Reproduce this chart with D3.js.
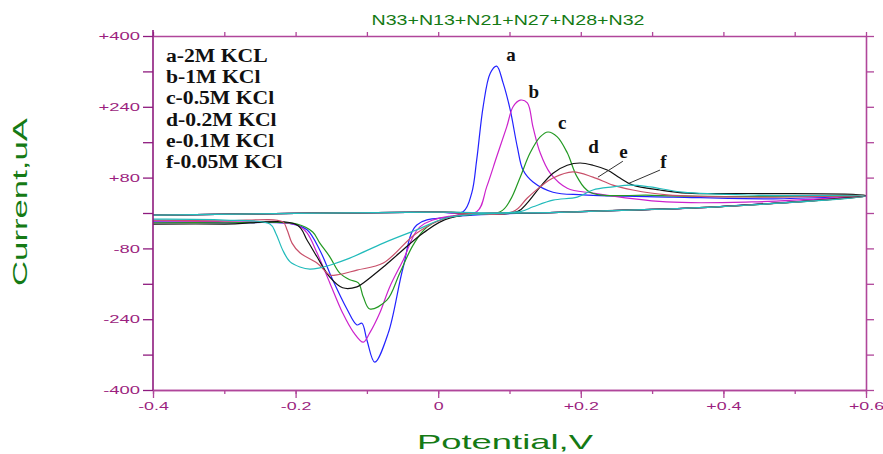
<!DOCTYPE html>
<html>
<head>
<meta charset="utf-8">
<script src="https://cdn.jsdelivr.net/npm/d3@7"></script>
<style>
  body { margin: 0; background: #fff; }
  svg { display: block; }
</style>
</head>
<body>
<svg id="chart" width="883" height="454"></svg>
<script>
// ---- text ----
const chartTitle = "N33+N13+N21+N27+N28+N32";
const xTitle = "Potential,V";
const yTitle = "Current,uA";
const seriesKeys = ["a", "b", "c", "d", "e", "f"];
const legendLabels = ["a-2M KCL", "b-1M KCl", "c-0.5M KCl", "d-0.2M KCl", "e-0.1M KCl", "f-0.05M KCl"];
const seriesColors = ["#2222ff", "#cc22cc", "#229922", "#111111", "#c8506a", "#22bbbb"];

// ---- axes ----
const xDomain = [-0.4, 0.6];
const yDomain = [-400, 400];
const xTicks = [-0.4, -0.3, -0.2, -0.1, 0, 0.1, 0.2, 0.3, 0.4, 0.5, 0.6];
const xLabelTicks = [-0.4, -0.2, 0, 0.2, 0.4, 0.6];
const yTicks = [-400, -320, -240, -160, -80, 0, 80, 160, 240, 320, 400];
const yLabelTicks = [-400, -240, -80, 80, 240, 400];

// ---- cyclic voltammograms: [potential V, current uA], forward scan then reverse scan ----
const curveA = [
  [-0.4, -5], [-0.2, -1], [0.0, 2], [0.035, 3], [0.047, 45], [0.054, 120], [0.063, 240],
  [0.073, 316], [0.082, 332], [0.091, 294], [0.101, 233], [0.111, 149], [0.119, 97],
  [0.133, 70], [0.161, 47], [0.203, 41], [0.33, 36], [0.47, 32], [0.6, 38],
  [0.39, 14], [0.18, 2], [0.017, -9], [-0.030, -27], [-0.049, -122], [-0.070, -271],
  [-0.089, -337], [-0.100, -287], [-0.107, -249], [-0.114, -253], [-0.128, -217],
  [-0.148, -151], [-0.166, -84], [-0.184, -38], [-0.204, -25], [-0.3, -22], [-0.4, -20]
];
const curveB = [
  [-0.4, -5], [-0.2, -1], [0.0, 2], [0.054, 3], [0.068, 59], [0.082, 127], [0.096, 194],
  [0.105, 240], [0.115, 255], [0.125, 249], [0.133, 194], [0.143, 136], [0.157, 90],
  [0.181, 56], [0.217, 45], [0.32, 25], [0.44, 25], [0.6, 38],
  [0.39, 14], [0.18, 2], [0.017, -7], [-0.026, -32], [-0.049, -106], [-0.068, -167],
  [-0.082, -226], [-0.096, -271], [-0.105, -292], [-0.119, -269], [-0.134, -226],
  [-0.152, -158], [-0.170, -90], [-0.184, -45], [-0.198, -27], [-0.3, -20], [-0.4, -18]
];
const curveC = [
  [-0.4, -5], [-0.2, -1], [0.0, 2], [0.087, 3], [0.101, 29], [0.115, 81], [0.129, 136],
  [0.143, 172], [0.154, 183], [0.167, 172], [0.181, 136], [0.195, 81], [0.213, 47],
  [0.30, 40], [0.45, 37], [0.6, 38],
  [0.39, 14], [0.18, 2], [0.017, -9], [-0.016, -32], [-0.035, -72], [-0.054, -136],
  [-0.072, -197], [-0.096, -217], [-0.105, -190], [-0.112, -158], [-0.124, -151],
  [-0.138, -136], [-0.152, -99], [-0.166, -68], [-0.176, -43], [-0.198, -25],
  [-0.3, -22], [-0.4, -22]
];
const curveD = [
  [-0.4, -5], [-0.2, -1], [0.0, 2], [0.111, 3], [0.125, 23], [0.143, 59], [0.161, 90],
  [0.181, 108], [0.199, 113], [0.217, 108], [0.237, 97], [0.255, 79], [0.273, 63],
  [0.311, 52], [0.349, 45], [0.45, 44], [0.6, 40],
  [0.39, 14], [0.18, 2], [0.017, -11], [-0.021, -45], [-0.054, -90], [-0.077, -122],
  [-0.105, -158], [-0.114, -167], [-0.134, -169], [-0.152, -145], [-0.170, -99],
  [-0.184, -61], [-0.198, -27], [-0.3, -25], [-0.4, -25]
];
const curveE = [
  [-0.4, -5], [-0.2, -1], [0.0, 2], [0.105, 3], [0.125, 34], [0.143, 59], [0.161, 79],
  [0.189, 93], [0.217, 81], [0.245, 63], [0.273, 52], [0.321, 41], [0.45, 36], [0.6, 38],
  [0.39, 14], [0.18, 2], [0.017, -9], [-0.030, -45], [-0.077, -113], [-0.114, -129],
  [-0.142, -140], [-0.152, -140], [-0.170, -113], [-0.194, -90], [-0.205, -68],
  [-0.212, -38], [-0.218, -20], [-0.3, -18], [-0.4, -16]
];
const curveF = [
  [-0.4, -5], [-0.2, -1], [0.0, 2], [0.115, 3], [0.133, 14], [0.161, 29], [0.195, 36],
  [0.217, 52], [0.245, 59], [0.269, 63], [0.297, 59], [0.343, 47], [0.45, 40], [0.6, 38],
  [0.39, 14], [0.18, 2], [0.017, -9], [-0.030, -38], [-0.077, -68], [-0.124, -102],
  [-0.152, -118], [-0.166, -124], [-0.180, -127], [-0.194, -122], [-0.208, -110],
  [-0.218, -84], [-0.228, -45], [-0.236, -25], [-0.3, -16], [-0.4, -14]
];
const curves = [curveA, curveB, curveC, curveD, curveE, curveF];

// peak letters (label baseline position in data units) and leader lines for e and f
const peakLabelPos = [[0.102, 343], [0.134, 260], [0.174, 190], [0.218, 136], [0.260, 124], [0.316, 102]];
const leaderLines = [
  [[0.259, 117], [0.224, 81]],
  [[0.311, 97], [0.266, 66]]
];

// ---- layout ----
const plot = { left: 153, right: 866, top: 36, bottom: 390 };
const axisMain = "#b0469a";
const axisLeftColor = "#8e1a7e";
const tickText = "#9c1f80";
const titleGreen = "#157a15";

const svg = d3.select("#chart");
const x = d3.scaleLinear().domain(xDomain).range([plot.left, plot.right]);
const y = d3.scaleLinear().domain(yDomain).range([plot.bottom, plot.top]);

function stretch(sel, k) {
  sel.each(function () {
    const w = this.getComputedTextLength();
    d3.select(this).attr("textLength", w * k).attr("lengthAdjust", "spacingAndGlyphs");
  });
}

const signed = d => d > 0 ? "+" + d : String(d);

// clip region for the curves
svg.append("defs").append("clipPath").attr("id", "plotClip")
  .append("rect")
  .attr("x", plot.left).attr("y", plot.top)
  .attr("width", plot.right - plot.left).attr("height", plot.bottom - plot.top);

// ---- curves ----
const line = d3.line()
  .x(d => x(d[0]))
  .y(d => y(d[1]))
  .curve(d3.curveCatmullRom.alpha(0.5));

svg.append("g").attr("clip-path", "url(#plotClip)")
  .selectAll("path")
  .data(curves)
  .join("path")
  .attr("d", line)
  .attr("fill", "none")
  .attr("stroke", (d, i) => seriesColors[i])
  .attr("stroke-width", 1.2)
  .attr("stroke-linejoin", "round");

// ---- axes ----
function styleAxis(g, color) {
  g.select(".domain").attr("stroke", color).attr("stroke-width", 1.6);
  g.selectAll(".tick line").attr("stroke", color).attr("stroke-width", 1.3);
  g.selectAll(".tick text").attr("fill", tickText)
    .attr("font-family", "Arial, 'Liberation Sans', sans-serif").attr("font-size", 11.5);
}

// top: minor ticks only
const gTop = svg.append("g").attr("transform", `translate(0,${plot.top})`)
  .call(d3.axisTop(x).tickValues(xTicks).tickSize(4).tickSizeOuter(0).tickFormat(""));
styleAxis(gTop, axisMain);

// right: ticks only
const gRight = svg.append("g").attr("transform", `translate(${plot.right},0)`)
  .call(d3.axisRight(y).tickValues(yTicks).tickSize(8).tickSizeOuter(0).tickFormat(""));
styleAxis(gRight, axisMain);

// bottom: minor ticks, then major labelled ticks
const gBottomMinor = svg.append("g").attr("transform", `translate(0,${plot.bottom})`)
  .call(d3.axisBottom(x).tickValues(xTicks).tickSize(4).tickSizeOuter(0).tickFormat(""));
styleAxis(gBottomMinor, axisMain);
const gBottom = svg.append("g").attr("transform", `translate(0,${plot.bottom})`)
  .call(d3.axisBottom(x).tickValues(xLabelTicks).tickSize(8).tickPadding(4).tickSizeOuter(0).tickFormat(signed));
styleAxis(gBottom, axisMain);
stretch(gBottom.selectAll(".tick text"), 1.55);

// left: every tick, labels on alternate values; the spine runs slightly past the top edge
const gLeft = svg.append("g").attr("transform", `translate(${plot.left},0)`)
  .call(d3.axisLeft(y).tickValues(yTicks).tickSize(10).tickPadding(3).tickSizeOuter(0)
    .tickFormat(d => yLabelTicks.includes(d) ? signed(d) : ""));
styleAxis(gLeft, axisLeftColor);
gLeft.select(".domain").attr("d", `M0,${plot.top - 6}V${plot.bottom}`);
stretch(gLeft.selectAll(".tick text").filter(function () { return this.textContent !== ""; }), 1.6);

// ---- titles ----
svg.append("text")
  .attr("x", 508).attr("y", 25)
  .attr("text-anchor", "middle")
  .attr("font-family", "Arial, 'Liberation Sans', sans-serif")
  .attr("font-size", 14)
  .attr("fill", titleGreen)
  .attr("textLength", 273).attr("lengthAdjust", "spacingAndGlyphs")
  .text(chartTitle);

svg.append("text")
  .attr("x", 505).attr("y", 449)
  .attr("text-anchor", "middle")
  .attr("font-family", "Arial, 'Liberation Sans', sans-serif")
  .attr("font-size", 21)
  .attr("fill", titleGreen)
  .attr("textLength", 176).attr("lengthAdjust", "spacingAndGlyphs")
  .text(xTitle);

svg.append("text")
  .attr("transform", "translate(27,202) rotate(-90)")
  .attr("text-anchor", "middle")
  .attr("font-family", "Arial, 'Liberation Sans', sans-serif")
  .attr("font-size", 20)
  .attr("fill", titleGreen)
  .attr("textLength", 168).attr("lengthAdjust", "spacingAndGlyphs")
  .text(yTitle);

// ---- legend ----
const legend = svg.append("g")
  .attr("font-family", "'Liberation Serif', 'Times New Roman', serif")
  .attr("font-weight", "bold")
  .attr("font-size", 18.5)
  .attr("fill", "#111");
legend.selectAll("text")
  .data(legendLabels)
  .join("text")
  .attr("x", 166)
  .attr("y", (d, i) => 62 + i * 21.2)
  .text(d => d);
stretch(legend.selectAll("text"), 1.17);

// ---- peak letters and leader lines ----
svg.append("g")
  .selectAll("line")
  .data(leaderLines)
  .join("line")
  .attr("x1", d => x(d[0][0])).attr("y1", d => y(d[0][1]))
  .attr("x2", d => x(d[1][0])).attr("y2", d => y(d[1][1]))
  .attr("stroke", "#333").attr("stroke-width", 1);

svg.append("g")
  .attr("font-family", "'Liberation Serif', 'Times New Roman', serif")
  .attr("font-weight", "bold")
  .attr("font-size", 19)
  .attr("fill", "#111")
  .selectAll("text")
  .data(seriesKeys)
  .join("text")
  .attr("x", (d, i) => x(peakLabelPos[i][0]))
  .attr("y", (d, i) => y(peakLabelPos[i][1]))
  .attr("text-anchor", "middle")
  .text(d => d);
</script>
</body>
</html>
